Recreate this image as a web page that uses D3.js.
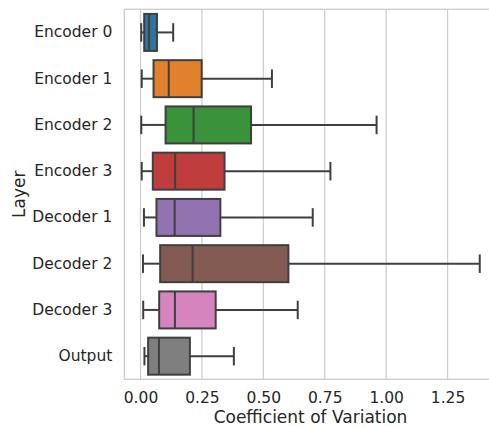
<!DOCTYPE html>
<html>
<head>
<meta charset="utf-8">
<script src="https://cdn.jsdelivr.net/npm/d3@7"></script>
<style>
  body { margin: 0; background: #fff; }
  text { font-family: "DejaVu Sans", sans-serif; fill: #262626; }
</style>
</head>
<body>
<svg id="chart"></svg>
<script>
// box stats
var layers = ["Encoder 0", "Encoder 1", "Encoder 2", "Encoder 3", "Decoder 1", "Decoder 2", "Decoder 3", "Output"];
var whiskLo = [0.003, 0.005, 0.003, 0.005, 0.014, 0.010, 0.011, 0.016];
var q1 = [0.015, 0.053, 0.102, 0.050, 0.065, 0.080, 0.076, 0.031];
var median = [0.035, 0.115, 0.216, 0.141, 0.139, 0.212, 0.140, 0.075];
var q3 = [0.067, 0.249, 0.450, 0.342, 0.325, 0.602, 0.306, 0.201];
var whiskHi = [0.133, 0.535, 0.961, 0.773, 0.701, 1.381, 0.640, 0.380];
var colors = ["#3274a1", "#e1812c", "#3a923a", "#c03d3e", "#9372b2", "#845b53", "#d684bd", "#7f7f7f"];
var xTicks = [0, 0.25, 0.5, 0.75, 1.0, 1.25];

var W = 489, H = 426;
var margin = { top: 9.3, right: -7.7, bottom: 46.7, left: 124.3 },
  width = W - margin.left - margin.right,
  height = H - margin.top - margin.bottom;

var svg = d3.select("#chart").attr("width", W).attr("height", H);

var data = layers.map(function (d, i) {
  return { layer: d, lo: whiskLo[i], q1: q1[i], med: median[i], q3: q3[i], hi: whiskHi[i], color: colors[i] };
});

var x = d3.scaleLinear().domain([-0.066, 1.45]).range([0, width]);
var y = d3.scaleBand().domain(layers).range([0, height]);

var g = svg.append("g").attr("transform", "translate(" + margin.left + "," + margin.top + ")");

// grid
g.selectAll(".grid")
  .data(xTicks)
  .enter()
  .append("line")
  .attr("x1", function (d) { return x(d); })
  .attr("x2", function (d) { return x(d); })
  .attr("y1", 0)
  .attr("y2", height)
  .style("stroke", "#cccccc")
  .style("stroke-width", 1.2);

// spines
g.append("rect")
  .attr("x", 0).attr("y", 0)
  .attr("width", width).attr("height", height)
  .style("fill", "none")
  .style("stroke", "#cccccc")
  .style("stroke-width", 1.3);

// x axis
var xAxis = g.append("g")
  .attr("transform", "translate(0," + height + ")")
  .call(d3.axisBottom(x).tickValues(xTicks).tickSize(0).tickPadding(12.5).tickFormat(d3.format(".2f")));
xAxis.select(".domain").remove();
xAxis.selectAll("text").style("font-size", "15.5px").style("fill", "#262626");

// y axis
var yAxis = g.append("g")
  .call(d3.axisLeft(y).tickSize(0).tickPadding(12));
yAxis.select(".domain").remove();
yAxis.selectAll("text").style("font-size", "15.5px").style("fill", "#262626");

// axis labels
svg.append("text")
  .attr("x", margin.left + width / 2)
  .attr("y", 423)
  .style("text-anchor", "middle")
  .style("font-size", "17px")
  .text("Coefficient of Variation");

svg.append("text")
  .attr("transform", "translate(25," + (margin.top + height / 2) + ") rotate(-90)")
  .style("text-anchor", "middle")
  .style("font-size", "17px")
  .text("Layer");

// boxes
var edge = "#3f3f3f", lw = 2;
var boxH = y.bandwidth() * 0.8;
var boxes = g.selectAll(".box")
  .data(data)
  .enter()
  .append("g")
  .attr("transform", function (d) { return "translate(0," + (y(d.layer) + y.bandwidth() / 2) + ")"; });

// whiskers
boxes.append("line")
  .attr("x1", function (d) { return x(d.lo); })
  .attr("x2", function (d) { return x(d.q1); })
  .style("stroke", edge).style("stroke-width", lw);
boxes.append("line")
  .attr("x1", function (d) { return x(d.q3); })
  .attr("x2", function (d) { return x(d.hi); })
  .style("stroke", edge).style("stroke-width", lw);

// caps
boxes.append("line")
  .attr("x1", function (d) { return x(d.lo); })
  .attr("x2", function (d) { return x(d.lo); })
  .attr("y1", -boxH / 4).attr("y2", boxH / 4)
  .style("stroke", edge).style("stroke-width", lw);
boxes.append("line")
  .attr("x1", function (d) { return x(d.hi); })
  .attr("x2", function (d) { return x(d.hi); })
  .attr("y1", -boxH / 4).attr("y2", boxH / 4)
  .style("stroke", edge).style("stroke-width", lw);

boxes.append("rect")
  .attr("x", function (d) { return x(d.q1); })
  .attr("y", -boxH / 2)
  .attr("width", function (d) { return x(d.q3) - x(d.q1); })
  .attr("height", boxH)
  .style("fill", function (d) { return d.color; })
  .style("stroke", edge).style("stroke-width", lw);

boxes.append("line")
  .attr("x1", function (d) { return x(d.med); })
  .attr("x2", function (d) { return x(d.med); })
  .attr("y1", -boxH / 2).attr("y2", boxH / 2)
  .style("stroke", edge).style("stroke-width", lw);
</script>
</body>
</html>
